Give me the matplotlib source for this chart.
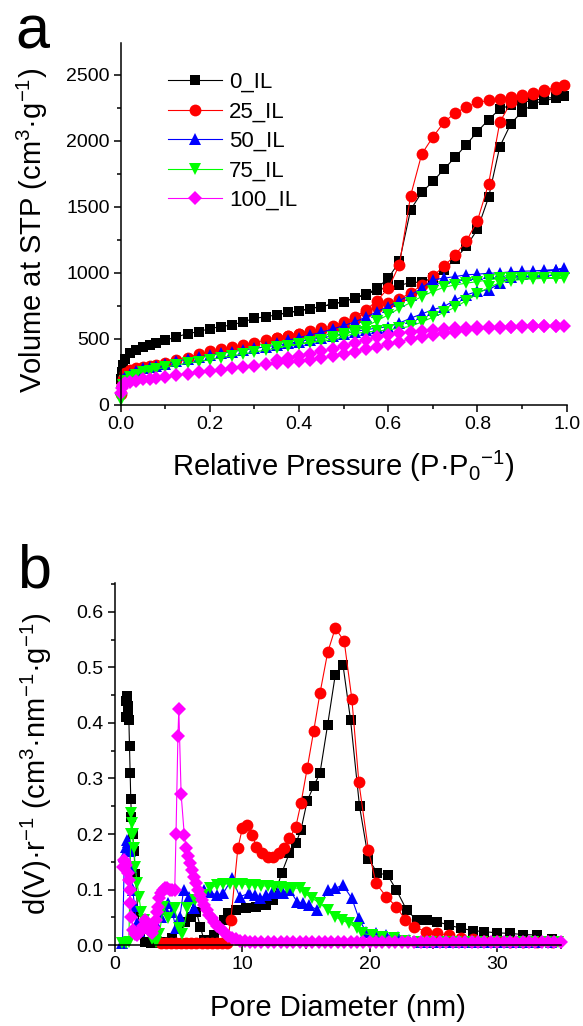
import numpy as np
import matplotlib
matplotlib.use("Agg")
import matplotlib.pyplot as plt
from matplotlib.ticker import MultipleLocator, FormatStrFormatter

plt.rcParams['font.family'] = ['Liberation Sans', 'DejaVu Sans']
plt.rcParams['mathtext.default'] = 'regular'

names = ["0_IL", "25_IL", "50_IL", "75_IL", "100_IL"]
colors = ["#000000", "#FF0000", "#0000FF", "#00FF00", "#FF00FF"]
markers = ["s", "o", "^", "v", "D"]
msizes = [7.5, 8.5, 9, 9, 7]

# ---- (a) N2 isotherms: adsorption branch then desorption branch ----
p_ads = [0.001, 0.003, 0.006, 0.01, 0.02, 0.035, 0.05, 0.065, 0.08,
         0.1, 0.125, 0.15, 0.175, 0.2, 0.225, 0.25, 0.275, 0.3, 0.325,
         0.35, 0.375, 0.4, 0.425, 0.45, 0.475, 0.5, 0.525, 0.55, 0.575,
         0.6, 0.625, 0.65, 0.675, 0.7, 0.725, 0.75, 0.775, 0.8, 0.825,
         0.85, 0.875, 0.9, 0.925, 0.95, 0.975, 0.995]
p_des = [0.975, 0.95, 0.925, 0.9, 0.875, 0.85, 0.825, 0.8, 0.775, 0.75,
         0.725, 0.7, 0.675, 0.65, 0.625, 0.6, 0.575, 0.55, 0.525, 0.5,
         0.475, 0.45, 0.425, 0.4, 0.375, 0.35]

v0_ads = [200, 250, 300, 350, 390, 415, 440, 455, 470,
          490, 515, 540, 555, 578, 593, 606, 630, 655, 668,
          682, 700, 712, 730, 745, 763, 783, 810, 835, 870,
          890, 905, 927, 930, 962, 1025, 1105, 1200, 1330, 1573,
          1955, 2130, 2220, 2280, 2305, 2320, 2335]
v0_des = [2330, 2320, 2305, 2290, 2270, 2240, 2160, 2070, 1970, 1876,
          1785, 1692, 1609, 1477, 1086, 960, 884, 838, 810, 783,
          763, 745, 730, 712, 700, 682]

v25_ads = [80, 150, 200, 240, 262, 278, 290, 298, 306,
           320, 340, 358, 385, 405, 422, 438, 455, 472, 490,
           505, 520, 535, 550, 565, 585, 610, 650, 700, 745,
           770, 800, 850, 905, 975, 1050, 1135, 1240, 1395, 1675,
           2140, 2290, 2330, 2355, 2375, 2395, 2420]
v25_des = [2405, 2385, 2365, 2345, 2330, 2316, 2305, 2290, 2255, 2210,
           2141, 2028, 1899, 1583, 1061, 884, 790, 720, 665, 625,
           600, 580, 560, 540, 525, 510]

v50_ads = [120, 170, 200, 215, 235, 260, 278, 286, 295,
           310, 330, 348, 362, 378, 392, 404, 416, 428, 440,
           452, 466, 480, 494, 508, 522, 540, 556, 570, 582,
           593, 620, 657, 689, 722, 745, 795, 833, 860, 872,
           920, 970, 990, 1000, 1010, 1020, 1035]
v50_des = [1025, 1020, 1015, 1012, 1008, 1000, 997, 990, 985, 972,
           960, 947, 884, 833, 790, 745, 707, 664, 630, 600,
           575, 550, 530, 510, 490, 470]

v75_ads = [40, 100, 150, 185, 210, 230, 248, 260, 270,
           285, 303, 316, 328, 342, 358, 372, 386, 400, 416,
           430, 446, 460, 472, 482, 492, 518, 540, 552, 560,
           568, 581, 595, 628, 664, 700, 740, 790, 840, 890,
           925, 942, 950, 955, 958, 960, 962]
v75_des = [962, 962, 961, 960, 960, 958, 947, 934, 922, 909,
           891, 859, 821, 775, 732, 682, 639, 593, 560, 535,
           512, 490, 475, 462, 450, 435]

v100_ads = [90, 130, 150, 165, 175, 185, 193, 200, 206,
            213, 225, 237, 248, 258, 268, 278, 288, 298, 308,
            318, 325, 333, 343, 355, 368, 385, 404, 423, 442,
            461, 480, 500, 518, 531, 543, 555, 568, 575, 581,
            586, 590, 592, 594, 595, 596, 598]
v100_des = [597, 596, 595, 594, 593, 592, 590, 588, 585, 581,
            575, 568, 562, 556, 543, 530, 512, 492, 470, 445,
            425, 405, 385, 368, 355, 342]

iso_ads = [v0_ads, v25_ads, v50_ads, v75_ads, v100_ads]
iso_des = [v0_des, v25_des, v50_des, v75_des, v100_des]

# ---- (b) pore size distributions ----
d0 = [0.85, 0.9, 0.95, 1.0, 1.05, 1.1, 1.15, 1.2, 1.25, 1.3, 1.4, 1.5, 1.6, 1.8,
      2.0, 2.4, 2.8, 3.2, 3.6, 4.0, 4.5, 5.0, 5.5, 6.0, 6.4, 6.7, 7.0, 7.4, 7.8,
      8.2, 8.6, 8.9, 9.5, 10.3, 11.1, 11.9, 12.4, 13.1, 13.7, 14.2, 14.6, 15.1,
      15.6, 16.1, 16.7, 17.3, 17.9, 18.5, 19.2, 19.9, 20.6, 21.4, 22.1, 22.9,
      23.7, 24.5, 25.3, 26.2, 27.2, 28.1, 29.0, 30.0, 31.0, 32.0, 33.1, 34.3]
psd0 = [0.41, 0.44, 0.448, 0.43, 0.42, 0.405, 0.358, 0.31, 0.263, 0.23, 0.2, 0.17, 0.128, 0.06,
        0.02, 0.006, 0.004, 0.004, 0.005, 0.006, 0.012, 0.033, 0.042, 0.05, 0.06, 0.033, 0.009, 0.005, 0.018,
        0.03, 0.045, 0.057, 0.063, 0.066, 0.069, 0.072, 0.081, 0.13, 0.166, 0.183, 0.207, 0.26,
        0.286, 0.31, 0.397, 0.487, 0.505, 0.405, 0.25, 0.155, 0.13, 0.126, 0.099, 0.063,
        0.045, 0.045, 0.042, 0.036, 0.030, 0.026, 0.024, 0.022, 0.021, 0.019, 0.018, 0.01]

d25 = [3.6, 4.0, 4.4, 4.8, 5.2, 5.6, 6.0, 6.4, 6.8, 7.2, 7.6, 8.0, 8.4, 8.8, 9.1,
       9.65, 10.0, 10.4, 10.8, 11.1, 11.55, 12.0, 12.4, 12.9, 13.3, 13.7, 14.2,
       14.6, 15.1, 15.6, 16.1, 16.7, 17.3, 18.0, 18.6, 19.15, 19.9, 20.5, 21.3,
       22.1, 22.8, 23.5, 24.4, 25.3, 26.2, 27.2, 28.1, 29.0, 30.0, 31.0, 32.0, 33.1, 34.3]
psd25 = [0.003, 0.003, 0.003, 0.003, 0.003, 0.003, 0.003, 0.003, 0.003, 0.003, 0.003, 0.003, 0.003, 0.003, 0.045,
         0.174, 0.21, 0.216, 0.198, 0.177, 0.165, 0.159, 0.159, 0.165, 0.174, 0.192, 0.213,
         0.255, 0.319, 0.385, 0.454, 0.527, 0.571, 0.547, 0.443, 0.293, 0.171, 0.111, 0.087,
         0.069, 0.045, 0.033, 0.024, 0.021, 0.018, 0.012, 0.01, 0.008, 0.007, 0.006, 0.006, 0.005, 0.005]

d50 = [0.6, 0.75, 0.85, 0.95, 1.05, 1.15, 1.25, 1.4, 1.55, 1.7, 1.9, 2.1, 2.4, 2.7, 3.0,
       3.3, 3.6, 3.9, 4.2, 4.5, 4.8, 5.1, 5.4, 5.8, 6.2, 6.6, 7.0, 7.5, 8.0, 8.5,
       9.2, 9.8, 10.5, 11.0, 11.4, 11.9, 12.3, 12.8, 13.2, 13.7, 14.3, 14.8, 15.2,
       15.9, 16.7, 17.25, 17.9, 18.6, 19.15, 19.7, 20.5, 21.3, 22.2, 23.1, 24.0,
       25.0, 26.0, 27.0, 28.0, 29.0, 30.0, 31.0, 32.0, 33.0, 34.2]
psd50 = [0.003, 0.16, 0.177, 0.19, 0.185, 0.17, 0.14, 0.1, 0.07, 0.04, 0.025, 0.03, 0.04, 0.035, 0.03,
         0.035, 0.05, 0.065, 0.075, 0.06, 0.03, 0.05, 0.1, 0.087, 0.066, 0.095, 0.1, 0.095, 0.09, 0.093,
         0.12, 0.087, 0.093, 0.09, 0.084, 0.09, 0.093, 0.093, 0.093, 0.1, 0.078, 0.075, 0.072,
         0.063, 0.099, 0.102, 0.108, 0.084, 0.048, 0.024, 0.021, 0.018, 0.015, 0.009, 0.006,
         0.005, 0.005, 0.005, 0.005, 0.005, 0.005, 0.005, 0.005, 0.005, 0.005]

d75 = [0.6, 0.9, 1.1, 1.25, 1.3, 1.35, 1.4, 1.5, 1.6, 1.75, 1.9, 2.05, 2.3, 2.6, 2.9,
       3.2, 3.5, 3.8, 4.2, 4.7, 5.0, 5.3, 5.7, 6.3, 6.9, 7.45, 8.0, 8.5, 9.0, 9.5,
       10.0, 10.5, 11.0, 11.5, 12.0, 12.5, 13.0, 13.5, 14.0, 14.5, 14.9, 15.5, 16.1,
       16.7, 17.25, 17.8, 18.4, 19.0, 19.4, 20.2, 21.0, 21.9, 22.8, 23.8, 24.8,
       25.8, 26.8, 27.8, 28.8, 29.8, 30.8, 31.8, 32.8, 33.8, 34.8]
psd75 = [0.003, 0.003, 0.005, 0.2, 0.237, 0.22, 0.2, 0.174, 0.141, 0.111, 0.087, 0.06, 0.045, 0.03, 0.01,
         0.005, 0.02, 0.069, 0.048, 0.066, 0.03, 0.02, 0.066, 0.081, 0.09, 0.102, 0.108, 0.11, 0.11, 0.11,
         0.11, 0.109, 0.108, 0.107, 0.106, 0.105, 0.104, 0.103, 0.103, 0.102, 0.093, 0.084, 0.075,
         0.063, 0.051, 0.045, 0.039, 0.03, 0.021, 0.018, 0.015, 0.012, 0.008, 0.006, 0.005,
         0.005, 0.005, 0.005, 0.005, 0.005, 0.005, 0.005, 0.005, 0.005, 0.005]

d100 = [0.65, 0.73, 0.8, 0.9, 1.0, 1.1, 1.17, 1.22, 1.3, 1.46, 1.6, 1.75, 1.9, 2.05, 2.2,
        2.35, 2.5, 2.6, 2.75, 2.9, 3.05, 3.2, 3.3, 3.4, 3.5, 3.65, 3.8, 3.95, 4.1, 4.3,
        4.5, 4.7, 4.8, 4.95, 5.02, 5.2, 5.45, 5.6, 5.75, 5.9, 6.05, 6.2, 6.35, 6.5,
        6.65, 6.8, 7.0, 7.2, 7.4, 7.6, 7.8, 8.0, 8.25, 8.5, 8.7, 8.9, 9.2, 9.5, 9.85,
        10.2, 10.6, 11.0, 11.5, 12.0, 12.5, 13.0, 13.5, 14.0, 14.5, 15.0, 15.5, 16.0,
        16.5, 17.0, 17.5, 18.0, 18.5, 19.0, 19.5, 20.0, 20.5, 21.0, 21.5, 22.0, 22.5,
        23.0, 23.5, 24.0, 24.5, 25.0, 25.5, 26.0, 26.5, 27.0, 27.5, 28.0, 28.5, 29.0,
        29.5, 30.0, 30.5, 31.0, 31.5, 32.0, 32.5, 33.0, 33.5, 34.0, 34.5, 35.0]
psd100 = [0.14, 0.153, 0.15, 0.144, 0.129, 0.117, 0.1, 0.075, 0.051, 0.027, 0.02, 0.018, 0.022, 0.027, 0.035,
          0.045, 0.04, 0.033, 0.025, 0.021, 0.03, 0.045, 0.06, 0.069, 0.084, 0.093, 0.099, 0.102, 0.102, 0.1,
          0.099, 0.1, 0.2, 0.377, 0.425, 0.272, 0.198, 0.175, 0.16, 0.147, 0.135, 0.123, 0.112, 0.1,
          0.09, 0.082, 0.072, 0.063, 0.055, 0.048, 0.041, 0.035, 0.03, 0.025, 0.02, 0.016, 0.012, 0.01, 0.008,
          0.007, 0.006, 0.006, 0.006, 0.006, 0.006, 0.005, 0.005, 0.005, 0.005, 0.005, 0.005, 0.005,
          0.005, 0.005, 0.005, 0.005, 0.005, 0.005, 0.005, 0.005, 0.005, 0.005, 0.005, 0.005, 0.005,
          0.005, 0.005, 0.005, 0.005, 0.005, 0.005, 0.005, 0.005, 0.005, 0.005, 0.005, 0.005, 0.005,
          0.005, 0.005, 0.005, 0.005, 0.005, 0.005, 0.005, 0.005, 0.005, 0.005, 0.005, 0.005]

psd_d = [d0, d25, d50, d75, d100]
psd_v = [psd0, psd25, psd50, psd75, psd100]

fig = plt.figure(figsize=(5.83, 10.26), dpi=100)
ax1 = fig.add_axes([0.207, 0.6053, 0.765, 0.3528])
ax2 = fig.add_axes([0.197, 0.0789, 0.765, 0.3528])

for i in range(5):
    x = list(p_ads) + list(p_des)
    y = list(iso_ads[i]) + list(iso_des[i])
    ax1.plot(x, y, color=colors[i], marker=markers[i], ms=msizes[i], mec=colors[i],
             mew=0, lw=0.8, label=names[i], clip_on=False)
    ax2.plot(psd_d[i], psd_v[i], color=colors[i], marker=markers[i], ms=msizes[i],
             mec=colors[i], mew=0, lw=0.8, clip_on=False)

for ax in (ax1, ax2):
    ax.spines['top'].set_visible(False)
    ax.spines['right'].set_visible(False)
    for s in ('left', 'bottom'):
        ax.spines[s].set_linewidth(1.1)
    ax.tick_params(which='major', direction='out', length=5, width=1.1, labelsize=14, pad=3)
    ax.tick_params(which='minor', direction='out', length=3, width=1.1)

ax1.set_xlim(0, 1)
ax1.set_ylim(0, 2740)
ax1.xaxis.set_major_locator(MultipleLocator(0.2))
ax1.xaxis.set_minor_locator(MultipleLocator(0.1))
ax1.xaxis.set_major_formatter(FormatStrFormatter('%.1f'))
ax1.yaxis.set_major_locator(MultipleLocator(500))
ax1.yaxis.set_minor_locator(MultipleLocator(250))
ax1.set_xlabel('Relative Pressure (P·P$_0$$^{-1}$)', fontsize=21, va='center')
ax1.xaxis.set_label_coords(0.5, -0.17)
ax1.set_ylabel('Volume at STP (cm$^3$·g$^{-1}$)', fontsize=21, va='center')
ax1.yaxis.set_label_coords(-0.199, 0.483)
ax1.legend(loc='upper left', bbox_to_anchor=(0.106, 0.92), frameon=False, fontsize=16,
           numpoints=1, handlelength=2.45, handletextpad=0.3, labelspacing=0.38,
           borderaxespad=0, borderpad=0)

ax2.set_xlim(0, 35)
ax2.set_ylim(0, 0.652)
ax2.xaxis.set_major_locator(MultipleLocator(10))
ax2.xaxis.set_minor_locator(MultipleLocator(5))
ax2.yaxis.set_major_locator(MultipleLocator(0.1))
ax2.yaxis.set_minor_locator(MultipleLocator(0.05))
ax2.yaxis.set_major_formatter(FormatStrFormatter('%.1f'))
ax2.set_xlabel('Pore Diameter (nm)', fontsize=21, va='center')
ax2.xaxis.set_label_coords(0.5, -0.174)
ax2.set_ylabel('d(V)·r$^{-1}$ (cm$^3$·nm$^{-1}$·g$^{-1}$)', fontsize=21, va='center')
ax2.yaxis.set_label_coords(-0.177, 0.5)

fig.text(0.026, 0.953, 'a', fontsize=44, va='baseline')
fig.text(0.03, 0.427, 'b', fontsize=44, va='baseline')

fig.savefig('out.png', dpi=100)
